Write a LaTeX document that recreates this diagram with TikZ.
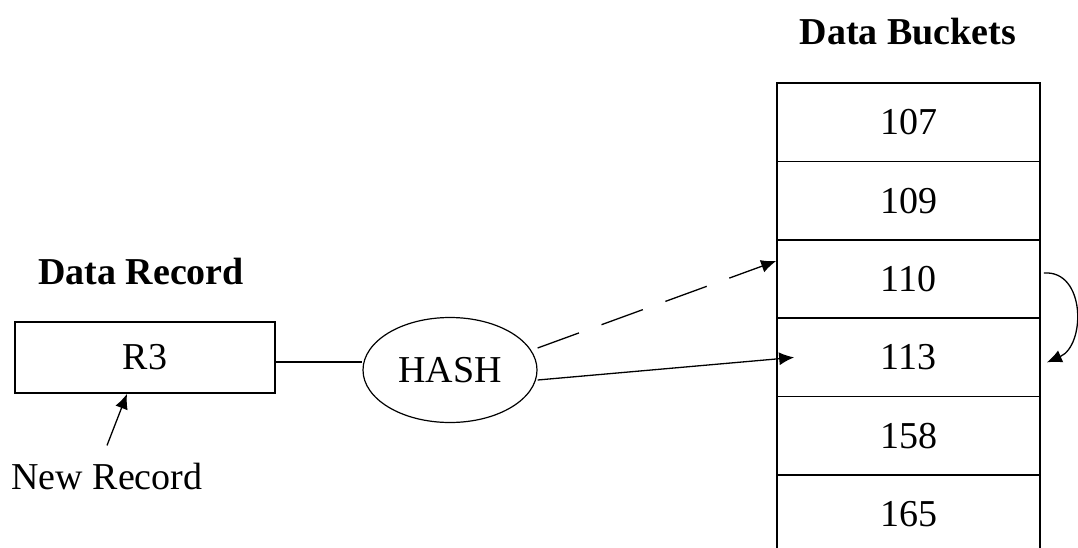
\documentclass[tikz,border=0pt]{standalone}
\usepackage{fontspec}
\setmainfont{Liberation Serif}
\usetikzlibrary{arrows.meta,positioning,shapes.geometric}
\tikzset{
  txt/.style={font=\fontsize{38}{44}\selectfont,inner sep=0pt},
  heading/.style={txt,font=\fontsize{38}{44}\selectfont\bfseries},
  bucket/.style={txt,draw,line width=1.7pt,minimum width=263pt,minimum height=78.4pt},
  recbox/.style={txt,draw,line width=1.7pt,minimum width=260pt,minimum height=71pt},
  hashnode/.style={txt,ellipse,draw,line width=1.2pt,minimum width=174pt,minimum height=105pt},
  link/.style={line width=1.3pt},
  arrowlink/.style={link,-{Latex[length=15pt,width=13pt]}}
}
\begin{document}
\begin{tikzpicture}[x=1pt,y=-1pt]
\useasboundingbox (0,0) rectangle (1078,547);
\node[heading] (bhead) at (908,32) {Data Buckets};
\foreach \v [count=\i from 0] in {107,109,110,113,158,165}{\node[bucket] (b\v) at (908.5,122.2+78.4*\i) {\v};}
\node[heading] (rhead) at (141,271) {Data Record};
\node[recbox] (r3) at (145,357.5) {R3};
\node[txt] (newrec) at (107,476) {New Record};
\node[hashnode] (hash) at (450,370) {HASH};
\draw[link] ([yshift=-4.5pt]r3.east) -- ([yshift=-4.5pt]r3.east -| hash.west);
\draw[arrowlink,dash pattern=on 44pt off 24pt] ([yshift=22pt]hash.east) -- ([yshift=18pt]b110.west);
\draw[arrowlink] ([yshift=-10pt]hash.east) -- ([xshift=18pt]b113.west);
\draw[arrowlink] ([xshift=3pt,yshift=6pt]b110.east) .. controls +(42,-3) and +(39,-17) .. ([xshift=6pt,yshift=-5pt]b113.east);
\draw[arrowlink] ([yshift=17pt]newrec.north) -- ([xshift=-18pt]r3.south);
\end{tikzpicture}
\end{document}
